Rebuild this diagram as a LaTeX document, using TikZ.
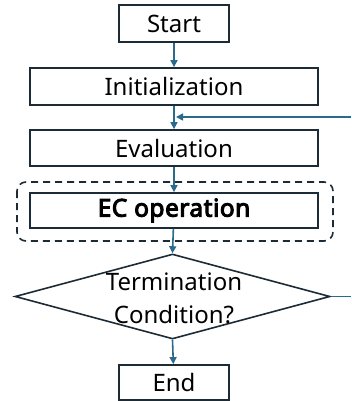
\documentclass[tikz,border=0pt]{standalone}
\usepackage{fontspec}
\setmainfont{Noto Sans}
\newfontfamily\ecboldfont{Noto Sans}[FakeBold=4,LetterSpace=2]
\usetikzlibrary{arrows.meta,shapes.geometric}
\definecolor{boxline}{HTML}{1C2B36}
\definecolor{arrowc}{HTML}{2A6A8A}
\tikzset{
  procbox/.style={draw=boxline, line width=1.8pt, inner sep=0pt, font=\fontsize{24}{32}\selectfont},
  flow/.style={draw=arrowc, line width=1.6pt, -{Triangle[length=7pt,width=7pt]}},
  plainflow/.style={draw=arrowc, line width=1.6pt},
}
\begin{document}
\begin{tikzpicture}[x=1pt,y=-1pt]
\useasboundingbox (0,0) rectangle (351,401);
\node[procbox, minimum width=110pt, minimum height=37pt] (start) at (174,23.5) {Start};
\node[procbox, minimum width=288pt, minimum height=37pt] (init) at (174,86.5) {Initialization};
\node[procbox, minimum width=288pt, minimum height=36pt] (eval) at (174,148) {Evaluation};
\draw[boxline, line width=1.6pt, dashed, dash pattern=on 7pt off 5pt, rounded corners=9pt] (17,182) rectangle (333,241);
\node[procbox, minimum width=288pt, minimum height=35pt, font=\ecboldfont\fontsize{24.5}{32}\selectfont] (ec) at (174,210.5) {EC operation};
\node[draw=boxline, line width=1.6pt, shape=diamond, aspect=1, inner sep=0pt, minimum width=315pt, minimum height=85pt] (cond) at (172.5,296.5) {};
\node[align=center, font=\fontsize{24}{33}\selectfont, inner sep=0pt] (condtext) at (174,298) {Termination\\Condition?};
\node[procbox, minimum width=110pt, minimum height=35pt] (end) at (174,382.5) {End};
\coordinate (loopin) at (351,117);
\coordinate (join) at (176,117);
\coordinate (loopout) at (351,296.5);
\draw[flow] (start) -- (init);
\draw[flow] (init) -- (eval);
\draw[flow] (eval) -- (ec);
\draw[flow] (ec) -- (cond.north);
\draw[flow] (cond.south) -- (end);
\draw[flow] (loopin) -- (join);
\draw[plainflow] (cond.east) -- (loopout);
\end{tikzpicture}
\end{document}
